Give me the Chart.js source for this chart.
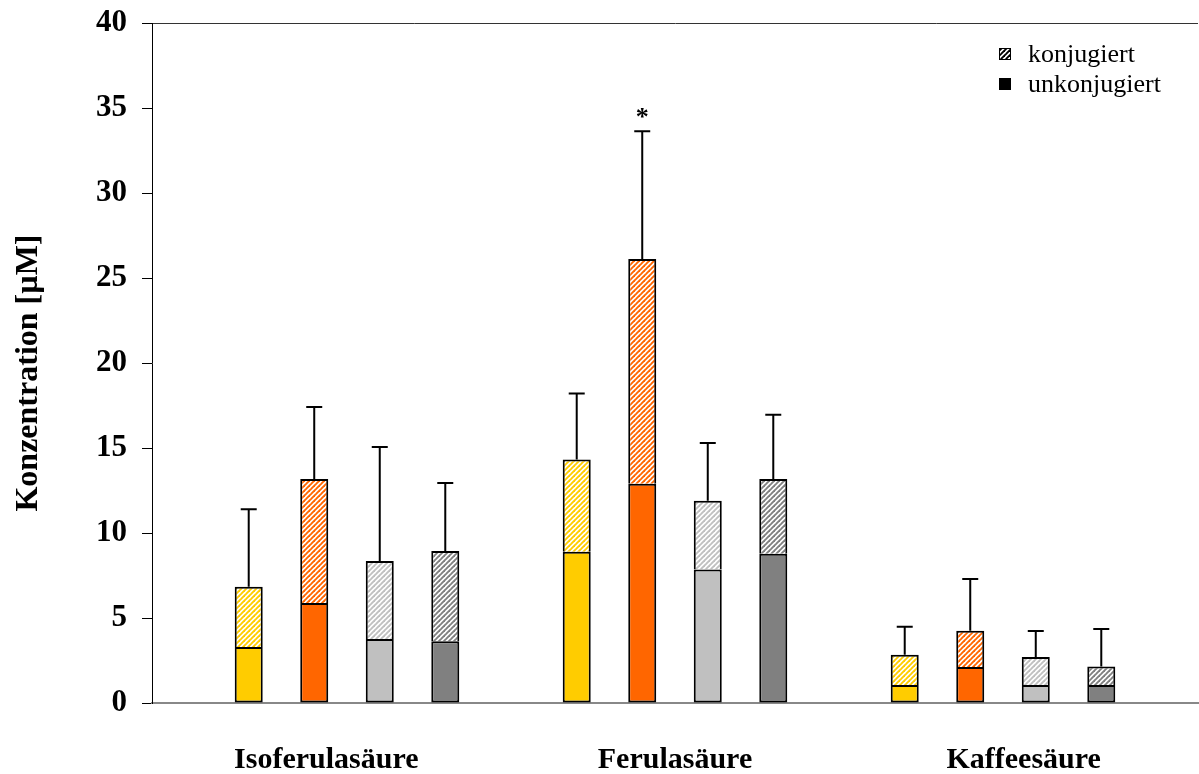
<!DOCTYPE html>
<html lang="de">
<head>
<meta charset="utf-8">
<title>Konzentration</title>
<script src="https://cdn.jsdelivr.net/npm/chart.js@4.4.0/dist/chart.umd.min.js"></script>
<style>
  html, body { margin: 0; padding: 0; background: #fff; }
  #wrap { width: 1199px; height: 774px; position: relative; }
</style>
</head>
<body>
<div id="wrap"><canvas id="chart"></canvas></div>
<script>
// Kategorien und Werte
const categories = ['Isoferulasäure', 'Ferulasäure', 'Kaffeesäure'];
const groupColors = ['#ffcc00', '#ff6600', '#c0c0c0', '#808080'];

// unkonjugierter Anteil je Gruppe (Zeile) und Säure (Spalte)
const unkonjugiert = [
    [3.29, 8.90, 1.06],
    [5.88, 12.90, 2.12],
    [3.76, 7.86, 1.06],
    [3.63, 8.78, 1.06]
];
// konjugierter Anteil, oben aufgesetzt
const konjugiert = [
    [3.55, 5.43, 1.78],
    [7.30, 13.22, 2.13],
    [4.59, 4.04, 1.65],
    [5.31, 4.40, 1.08]
];
// Standardabweichung (nur nach oben)
const fehler = [
    [4.56, 3.87, 1.65],
    [4.23, 7.51, 3.04],
    [6.71, 3.39, 1.53],
    [4.00, 3.77, 2.21]
];
const yMin = 0, yMax = 40, yStep = 5;
const yTitle = 'Konzentration [µM]';
const legendLabels = ['konjugiert', 'unkonjugiert'];
// Sternchen über Gruppe 2 / Ferulasäure
const sternGruppe = 1, sternKategorie = 1;

const SERIF = '"Liberation Serif", "Times New Roman", serif';

// schräge Schraffur (/) in der Gruppenfarbe auf Weiß
function hatch(color) {
    const s = 5;
    const c = document.createElement('canvas');
    c.width = s;
    c.height = s;
    const g = c.getContext('2d');
    g.fillStyle = '#ffffff';
    g.fillRect(0, 0, s, s);
    g.strokeStyle = color;
    g.lineWidth = 1.9;
    for (const k of [-s, 0, s]) {
        g.beginPath();
        g.moveTo(k - 1, s + 1);
        g.lineTo(k + s + 1, -1);
        g.stroke();
    }
    return g.createPattern(c, 'repeat');
}

const ctx = document.getElementById('chart').getContext('2d');

const datasets = [];
groupColors.forEach((col, g) => {
    datasets.push({
        label: 'unkonjugiert',
        stack: 's' + g,
        data: categories.map((c, i) => ({ x: i, y: unkonjugiert[g][i] })),
        backgroundColor: col,
        borderColor: '#000',
        borderWidth: 2,
        borderSkipped: false
    });
    datasets.push({
        label: 'konjugiert',
        stack: 's' + g,
        data: categories.map((c, i) => ({ x: i, y: konjugiert[g][i] })),
        backgroundColor: hatch(col),
        borderColor: '#000',
        borderWidth: 2,
        borderSkipped: 'start'
    });
});

// Fehlerbalken, Sternchen, Achsentitel und Legende
const extras = {
    id: 'extras',
    afterDatasetsDraw(chart) {
        const c = chart.ctx;
        const yScale = chart.scales.y;
        c.save();
        c.strokeStyle = '#000';
        c.lineWidth = 2;
        groupColors.forEach((col, g) => {
            const meta = chart.getDatasetMeta(g * 2 + 1);
            meta.data.forEach((bar, i) => {
                const total = unkonjugiert[g][i] + konjugiert[g][i];
                const top = yScale.getPixelForValue(total + fehler[g][i]);
                c.beginPath();
                c.moveTo(bar.x, bar.y);
                c.lineTo(bar.x, top);
                c.moveTo(bar.x - 8, top);
                c.lineTo(bar.x + 8, top);
                c.stroke();
                if (g === sternGruppe && i === sternKategorie) {
                    c.fillStyle = '#000';
                    c.font = 'bold 26px ' + SERIF;
                    c.textAlign = 'center';
                    c.textBaseline = 'middle';
                    c.fillText('*', bar.x, top - 13);
                }
            });
        });

        // y-Achsentitel, gedreht
        c.save();
        c.translate(37, 373);
        c.rotate(-Math.PI / 2);
        c.fillStyle = '#000';
        c.font = 'bold 32px ' + SERIF;
        c.textAlign = 'center';
        c.textBaseline = 'alphabetic';
        c.fillText(yTitle, 0, 0);
        c.restore();

        // Legende oben rechts
        const lx = 999, ly = [54, 84];
        c.font = '26px ' + SERIF;
        c.textAlign = 'left';
        c.textBaseline = 'middle';
        legendLabels.forEach((txt, k) => {
            c.fillStyle = k === 0 ? hatch('#000') : '#000';
            c.fillRect(lx, ly[k] - 6, 12, 12);
            c.lineWidth = 1;
            c.strokeRect(lx + 0.5, ly[k] - 5.5, 11, 11);
            c.fillStyle = '#000';
            c.fillText(txt, lx + 29, ly[k] + 1);
        });
        c.restore();
    }
};

new Chart(ctx, {
    type: 'bar',
    data: { datasets: datasets },
    options: {
        responsive: true,
        maintainAspectRatio: false,
        animation: false,
        layout: { padding: { top: 23, right: 1, left: 0, bottom: 0 } },
        categoryPercentage: 0.799,
        barPercentage: 0.4275,
        scales: {
            // Positionsachse für die Balken: Gruppenabstand 328 px
            x: {
                type: 'linear',
                display: false,
                offset: false,
                min: -0.5945,
                max: 2.5945,
                afterBuildTicks: s => { s.ticks = categories.map((c, i) => ({ value: i })); }
            },
            xLab: {
                type: 'category',
                position: 'bottom',
                labels: categories,
                offset: true,
                grid: { display: false, drawTicks: false },
                border: { display: true, color: '#888', width: 2 },
                ticks: {
                    color: '#000',
                    padding: 39,
                    font: { family: SERIF, size: 30, weight: 'bold' }
                },
                afterFit: s => { s.height = 71; }
            },
            y: {
                min: yMin,
                max: yMax,
                border: { color: '#000', width: 1 },
                grid: {
                    color: c => (c.tick && c.tick.value === yMax) ? '#333' : 'rgba(0,0,0,0)',
                    tickColor: '#000',
                    tickLength: 10,
                    lineWidth: 1
                },
                ticks: {
                    stepSize: yStep,
                    color: '#000',
                    padding: 15,
                    font: { family: SERIF, size: 31, weight: 'bold' }
                },
                afterFit: s => {
                    s.width = 152;
                    s.paddingTop = 0;
                    s.paddingBottom = 0;
                }
            }
        },
        plugins: {
            legend: { display: false },
            tooltip: { enabled: false }
        }
    },
    plugins: [extras]
});
</script>
</body>
</html>
